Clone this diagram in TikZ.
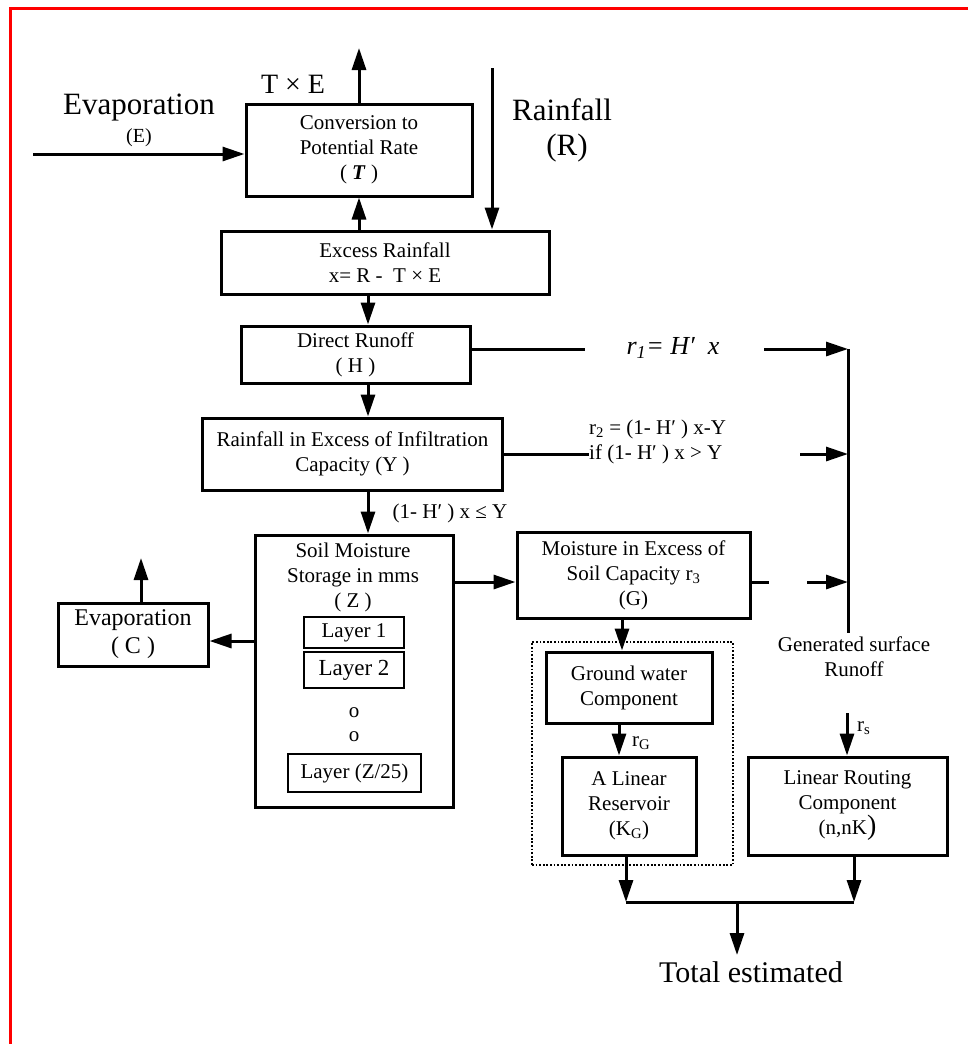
\documentclass[tikz,border=0pt]{standalone}
\usepackage{fontspec}
\setmainfont{Liberation Serif}
\usetikzlibrary{arrows.meta}
\newcommand{\smalltxt}{\fontsize{21}{25}\selectfont}
\newcommand{\bigtxt}{\fontsize{31}{37}\selectfont}
\begin{document}
\begin{tikzpicture}[x=1pt,y=-1pt,
  box/.style={draw,line width=3pt,inner sep=0pt,align=center,font=\smalltxt},
  layerbox/.style={draw,line width=1.6pt,inner sep=0pt,font=\smalltxt},
  arr/.style={line width=3pt,-{Triangle[length=22pt,width=14pt]}},
  ln/.style={line width=3pt}]
\useasboundingbox (0,0) rectangle (967,1044);
\draw[red,line width=3pt] (10.5,1060) -- (10.5,8.5) -- (980,8.5);
% boxes
\node[box,minimum width=226pt,minimum height=92pt] (conv) at (359,150) {Conversion to\\Potential Rate\\( \textbf{\textit{T}} )};
\node[box,minimum width=328pt,minimum height=63pt] (excess) at (385,262.5) {Excess Rainfall\\x= R -\enspace T × E};
\node[box,minimum width=229pt,minimum height=57pt] (direct) at (355.5,354.5) {Direct Runoff\\( H )};
\node[box,minimum width=300pt,minimum height=72pt] (rinf) at (352.5,454) {Rainfall in Excess of Infiltration\\Capacity (Y )};
\node[box,minimum width=198pt,minimum height=272pt] (soil) at (354,671) {};
\node[font=\smalltxt,align=center] (soiltxt) at (353,577) {Soil Moisture\\Storage in mms\\( Z )};
\node[layerbox,minimum width=100pt,minimum height=31pt] (lay1) at (354,632.5) {Layer 1};
\node[layerbox,minimum width=100pt,minimum height=36pt,font=\fontsize{23}{27}\selectfont] (lay2) at (354,670) {Layer 2};
\node[font=\smalltxt] (dot1) at (354,713) {o};
\node[font=\smalltxt] (dot2) at (354,737) {o};
\node[layerbox,minimum width=133pt,minimum height=38pt] (layz) at (354.5,773) {Layer (Z/25)};
\node[box,minimum width=150pt,minimum height=63pt,font=\fontsize{24}{28}\selectfont] (evapc) at (133,634.5) {Evaporation\\( C )};
\node[box,minimum width=233pt,minimum height=86pt] (moist) at (633.5,575) {Moisture in Excess of\\Soil Capacity r\textsubscript{3}\\(G)};
\node[draw,line width=1.8pt,dash pattern=on 1.8pt off 1.8pt,minimum width=201pt,minimum height=223pt] (gwgroup) at (632.5,753.5) {};
\node[box,minimum width=166pt,minimum height=71pt] (ground) at (629,687.5) {Ground water\\Component};
\node[box,minimum width=134pt,minimum height=98pt] (linres) at (629,806) {A Linear\\Reservoir\\(K\textsubscript{G})};
\node[box,minimum width=199pt,minimum height=98pt] (routing) at (847.5,806) {Linear Routing\\Component\\(n,nK{\fontsize{28}{25}\selectfont )}};
% labels
\node[font=\bigtxt] (evaplbl) at (139,108) {Evaporation};
\node[font=\fontsize{20}{24}\selectfont] (elbl) at (139,138) {(E)};
\node[font=\fontsize{28}{32}\selectfont] (telbl) at (293,84) {T × E};
\node[font=\bigtxt] (rainlbl) at (562,110) {Rainfall};
\node[font=\bigtxt] (rlbl) at (567,148) {(R)};
\node[font=\fontsize{26}{30}\selectfont\itshape] (ronelbl) at (673,348) {r\textsubscript{1}= H′\enspace x};
\node[font=\smalltxt,align=left,anchor=west,inner sep=0pt] (rtwolbl) at (589,442) {r\textsubscript{2} = (1- H′ ) x-Y\\if (1- H′ ) x > Y};
\node[font=\smalltxt] (condlbl) at (450,513) {(1- H′ ) x ≤ Y};
\node[font=\smalltxt,align=center] (genlbl) at (854,657) {Generated surface\\Runoff};
\node[font=\smalltxt,anchor=west,inner sep=0pt] (rslbl) at (857,728) {r\textsubscript{s}};
\node[font=\smalltxt,anchor=west,inner sep=0pt] (rglbl) at (632,743) {r\textsubscript{G}};
\node[font=\fontsize{30}{36}\selectfont] (total) at (751,972) {Total estimated};
% connector ends
\coordinate (evapin) at (33,154);
\coordinate (convout) at (359,48);
\coordinate (rainin) at (492,68);
\coordinate (spine) at (368,0);
\coordinate (col) at (848,0);
\coordinate (ronel) at (585,349);
\coordinate (roner) at (764,349);
\coordinate (rtwor) at (800,454);
\coordinate (moistout) at (769,582);
\coordinate (moistr) at (807,582);
\coordinate (evapy) at (0,641);
\coordinate (evapout) at (141,558);
\coordinate (gwx) at (622,0);
\coordinate (rgx) at (619,0);
\coordinate (outx) at (626,0);
\coordinate (routx) at (854,0);
\coordinate (rsin) at (847,713);
\coordinate (join) at (0,902);
\coordinate (totx) at (737,902);
\coordinate (totin) at (737,955);
% connectors
\draw[arr] (evapin) -- (evapin -| conv.west);
\draw[arr] (conv.north) -- (convout);
\draw[arr] (rainin) -- (rainin |- excess.north);
\draw[arr] (conv.south |- excess.north) -- (conv.south);
\draw[arr] (spine |- excess.south) -- (spine |- direct.north);
\draw[arr] (spine |- direct.south) -- (spine |- rinf.north);
\draw[arr] (spine |- rinf.south) -- (spine |- soil.north);
\draw[ln] (direct.east |- ronel) -- (ronel);
\draw[arr] (roner) -- (roner -| col);
\draw[ln] (rinf.east) -- (rinf.east -| rtwolbl.west);
\draw[arr] (rtwor) -- (rtwor -| col);
\draw[ln] (moist.east |- moistout) -- (moistout);
\draw[arr] (moistr) -- (moistr -| col);
\draw[ln] (col |- ronel) -- (col |- genlbl.north);
\draw[arr] (soil.east |- moistout) -- (moist.west |- moistout);
\draw[arr] (soil.west |- evapy) -- (evapc.east |- evapy);
\draw[arr] (evapout |- evapc.north) -- (evapout);
\draw[arr] (gwx |- moist.south) -- (gwx |- ground.north);
\draw[arr] (rgx |- ground.south) -- (rgx |- linres.north);
\draw[arr] (rsin) -- (rsin |- routing.north);
\draw[arr] (outx |- linres.south) -- (outx |- join);
\draw[arr] (routx |- routing.south) -- (routx |- join);
\draw[ln] (outx |- join) -- (routx |- join);
\draw[arr] (totx) -- (totin);
\end{tikzpicture}
\end{document}
